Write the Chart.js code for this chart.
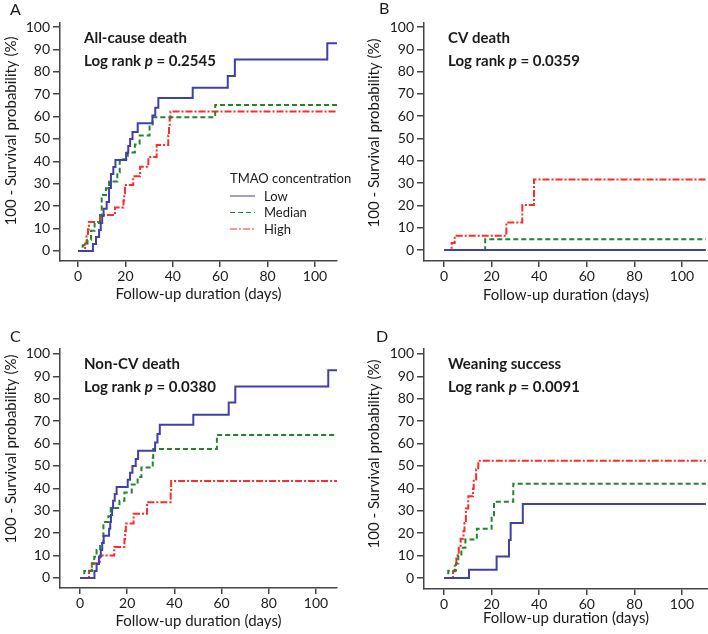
<!DOCTYPE html>
<html>
<head>
<meta charset="utf-8">
<script src="https://cdn.jsdelivr.net/npm/chart.js@4.4.1/dist/chart.umd.min.js"></script>
<style>
  html, body { margin: 0; padding: 0; background: #fff; }
  #figure { position: relative; width: 708px; height: 634px; }
  #figure canvas { position: absolute; }
</style>
</head>
<body>
<div id="figure">
  <canvas id="cA" width="354" height="317" style="left:0;top:0"></canvas>
  <canvas id="cB" width="354" height="317" style="left:354px;top:0"></canvas>
  <canvas id="cC" width="354" height="317" style="left:0;top:317px"></canvas>
  <canvas id="cD" width="354" height="317" style="left:354px;top:317px"></canvas>
</div>
<script>
// -----------------------
// Data (day, 100 - survival %)
// -----------------------
const xTicks = [0, 20, 40, 60, 80, 100];
const yTicks = [0, 10, 20, 30, 40, 50, 60, 70, 80, 90, 100];
const groupNames = ['Low', 'Median', 'High'];
const panelLetters = ['A', 'B', 'C', 'D'];
const outcomeTitles = ['All-cause death', 'CV death', 'Non-CV death', 'Weaning success'];
const pValues = ['0.2545', '0.0359', '0.0380', '0.0091'];

// A: all-cause death
const lowA = [[0,0],[6.3,3.1],[7.6,6.2],[8.9,9.4],[9.6,12.5],[10.2,15.6],[10.8,18.8],[12.1,21.9],[13.1,28.1],[13.9,34.4],[14.9,37.5],[15.8,40.6],[20.3,43.8],[21.2,46.9],[22,50],[23,53.1],[25.2,57],[31.4,60.5],[32.6,64],[33.9,68.3],[48.4,72.9],[63.2,78.1],[66.2,85.5],[105.2,92.7],[110,92.7]];
const medA = [[0,0],[2,2.5],[4,5],[5.5,9],[7,12.5],[9.3,16],[10,25],[11.8,28],[13.1,31],[16.6,35],[17.6,41],[21,44],[24,47.5],[26,51.5],[30.2,55.6],[31.5,59.7],[57.9,65.2],[110,65.2]];
const highA = [[0,0],[3,3.3],[3.6,6.5],[4.2,9.7],[4.6,12.9],[9.3,16.1],[15.6,19.4],[19.2,22.6],[19.5,25.8],[19.8,29.5],[23.3,33.3],[26.2,37.6],[29.7,41.9],[33.2,47.3],[38.1,51.6],[38.4,55.9],[38.7,59.1],[39,62.3],[110,62.3]];

// B: CV death
const lowB = [[0,0],[110,0]];
const medB = [[0,0],[17.3,4.8],[110,4.8]];
const highB = [[0,0],[3.2,3.2],[4.5,6.4],[26.2,12.4],[32.9,20.2],[37.8,31.6],[110,31.6]];

// C: non-CV death
const lowC = [[0,0],[6.1,3.1],[7,6.2],[8,9.4],[8.8,12.5],[9.4,15.6],[10,18.8],[12.3,21.9],[12.8,25],[13.1,28.1],[13.6,31.2],[14,34.4],[14.7,37.5],[15.5,40.6],[20.2,43.8],[21.2,46.9],[22.2,50],[23.6,53.1],[24.6,56.8],[31.8,60.5],[32.8,64.2],[33.8,68.4],[48,72.9],[63,78.3],[65.8,85.5],[105.2,92.7],[110,92.7]];
const medC = [[0,0],[1.8,3.1],[5,6.3],[6,9.4],[7,12.5],[8.5,15.6],[9.9,25],[12,27.5],[13,31.2],[16.7,34.4],[18.8,38.1],[21.9,41.7],[24.4,45],[26,49.3],[30.8,53.5],[31,57.6],[58,63.8],[110,63.8]];
const highC = [[0,0],[3.8,3.2],[5,6.6],[8.4,10],[14.5,13.8],[18.8,17.3],[19.1,20.8],[19.4,24.3],[22.7,28.6],[28.4,33.8],[38.4,38.5],[38.6,43.3],[110,43.3]];

// D: weaning success
const lowD = [[0,0],[10.5,3.7],[22.1,9.6],[27.3,17],[28,24.5],[33.1,33],[110,33]];
const medD = [[0,0],[1.8,3.2],[5,6.5],[6,10],[7.3,13.5],[9,17.2],[13.8,22],[20,28],[21,34],[29.1,42.1],[110,42.1]];
const highD = [[0,0],[3.8,3],[4.5,6.5],[5.2,10],[6.2,13.5],[7,17.5],[8.2,21],[8.6,24.5],[9.2,31],[10.2,36.5],[12.2,40],[12.5,44],[13.5,48.5],[14.4,52.3],[110,52.3]];

// -----------------------
// Styles / layout
// -----------------------
const FONT = 'Lato, "Open Sans", sans-serif';
const TEXT = '#1a1a1a';
const AXIS = '#444';
const lineStyles = [
  { color: '#4040aa', dash: [] },
  { color: '#23842c', dash: [5, 3] },
  { color: '#ff2b2b', dash: [7, 2, 2, 2] }
];

const panels = [
  { id: 'cA', series: [lowA, medA, highA], yW: 60, padR: 17, padT: 23, xH: 56, xMin: -7.6, xMax: 109.3, yMin: -4.5, yMax: 101.8, xTitleY: 294.5, yTitleX: 11, yTitleY: 131, letterX: 10, letterY: 15, legend: true },
  { id: 'cB', series: [lowB, medB, highB], yW: 70, padR: 0, padT: 23, xH: 56, xMin: -8.4, xMax: 110.9, yMin: -4.9, yMax: 101.8, xTitleY: 295, yTitleX: 20, yTitleY: 133, letterX: 25, letterY: 14 },
  { id: 'cC', series: [lowC, medC, highC], yW: 60, padR: 17, padT: 32, xH: 46, xMin: -8.5, xMax: 108.9, yMin: -4.5, yMax: 102.2, xTitleY: 304, yTitleX: 11, yTitleY: 132, letterX: 10, letterY: 25 },
  { id: 'cD', series: [lowD, medD, highD], yW: 70, padR: 0, padT: 32, xH: 45, xMin: -8.4, xMax: 110.9, yMin: -4.9, yMax: 102.2, xTitleY: 301, yTitleX: 20, yTitleY: 137, letterX: 22, letterY: 25 }
];

// -----------------------
// Text overlay plugin (letter, y title, outcome, p value, legend)
// -----------------------
const panelText = {
  id: 'panelText',
  afterDraw(chart, args, o) {
    const { ctx, chartArea } = chart;
    ctx.save();
    ctx.fillStyle = TEXT;

    ctx.font = '16px ' + FONT;
    ctx.textAlign = 'left';
    ctx.textBaseline = 'alphabetic';
    ctx.fillText(o.letter, o.letterX, o.letterY);

    ctx.save();
    ctx.translate(o.yTitleX, o.yTitleY);
    ctx.rotate(-Math.PI / 2);
    ctx.textAlign = 'center';
    ctx.textBaseline = 'middle';
    ctx.font = '15px ' + FONT;
    ctx.fillText('100 - Survival probability (%)', 0, 0);
    ctx.restore();

    const tx = chartArea.left + 24;
    ctx.font = 'bold 15px ' + FONT;
    ctx.fillText(o.outcome, tx, chartArea.top + 20);
    let x = tx;
    const y2 = chartArea.top + 43;
    ctx.fillText('Log rank ', x, y2);
    x += ctx.measureText('Log rank ').width;
    ctx.font = 'italic bold 15px ' + FONT;
    ctx.fillText('p', x, y2);
    x += ctx.measureText('p').width;
    ctx.font = 'bold 15px ' + FONT;
    ctx.fillText(' = ' + o.p, x, y2);

    if (o.legend) {
      ctx.font = '13px ' + FONT;
      ctx.fillText('TMAO concentration', 230, 183);
      chart.data.datasets.forEach((ds, i) => {
        const ly = 196 + i * 16.5;
        ctx.save();
        ctx.strokeStyle = ds.borderColor;
        ctx.setLineDash(ds.borderDash);
        ctx.lineWidth = 1;
        ctx.beginPath();
        ctx.moveTo(230, ly);
        ctx.lineTo(255, ly);
        ctx.stroke();
        ctx.restore();
        ctx.fillText(ds.label, 264, ly + 4.5);
      });
    }
    ctx.restore();
  }
};

// -----------------------
// Build charts
// -----------------------
panels.forEach((p, idx) => {
  const datasets = p.series.map((s, i) => ({
    label: groupNames[i],
    data: s.map(([d, v]) => ({ x: d, y: v })),
    borderColor: lineStyles[i].color,
    borderDash: lineStyles[i].dash,
    borderWidth: 2,
    stepped: 'before',
    pointRadius: 0,
    fill: false
  }));

  new Chart(document.getElementById(p.id), {
    type: 'line',
    data: { datasets },
    plugins: [panelText],
    options: {
      responsive: false,
      animation: false,
      devicePixelRatio: 1,
      layout: { padding: { left: 0, right: p.padR, top: p.padT, bottom: 0 } },
      plugins: {
        legend: { display: false },
        tooltip: { enabled: false },
        panelText: {
          letter: panelLetters[idx], letterX: p.letterX, letterY: p.letterY,
          yTitleX: p.yTitleX, yTitleY: p.yTitleY,
          outcome: outcomeTitles[idx], p: pValues[idx], legend: !!p.legend
        }
      },
      scales: {
        x: {
          type: 'linear', min: p.xMin, max: p.xMax,
          afterBuildTicks: s => { s.ticks = xTicks.map(v => ({ value: v })); },
          afterFit: s => { s.height = p.xH; },
          grid: { display: true, drawOnChartArea: false, drawTicks: true, tickLength: 6, color: AXIS, lineWidth: 1.5 },
          border: { display: true, color: AXIS, width: 1.5 },
          ticks: { font: { family: FONT, size: 14 }, color: TEXT, padding: 1, maxRotation: 0, autoSkip: false },
          title: {
            display: true, text: 'Follow-up duration (days)', color: TEXT,
            font: { family: FONT, size: 15, lineHeight: 1.2 },
            padding: { top: 0, bottom: 317 - p.xTitleY - 9 }
          }
        },
        y: {
          type: 'linear', min: p.yMin, max: p.yMax,
          afterBuildTicks: s => { s.ticks = yTicks.map(v => ({ value: v })); },
          afterFit: s => { s.width = p.yW; },
          grid: { display: true, drawOnChartArea: false, drawTicks: true, tickLength: 7, color: AXIS, lineWidth: 1.5 },
          border: { display: true, color: AXIS, width: 1.5 },
          ticks: { font: { family: FONT, size: 14 }, color: TEXT, padding: 3, autoSkip: false }
        }
      }
    }
  });
});
</script>
</body>
</html>
